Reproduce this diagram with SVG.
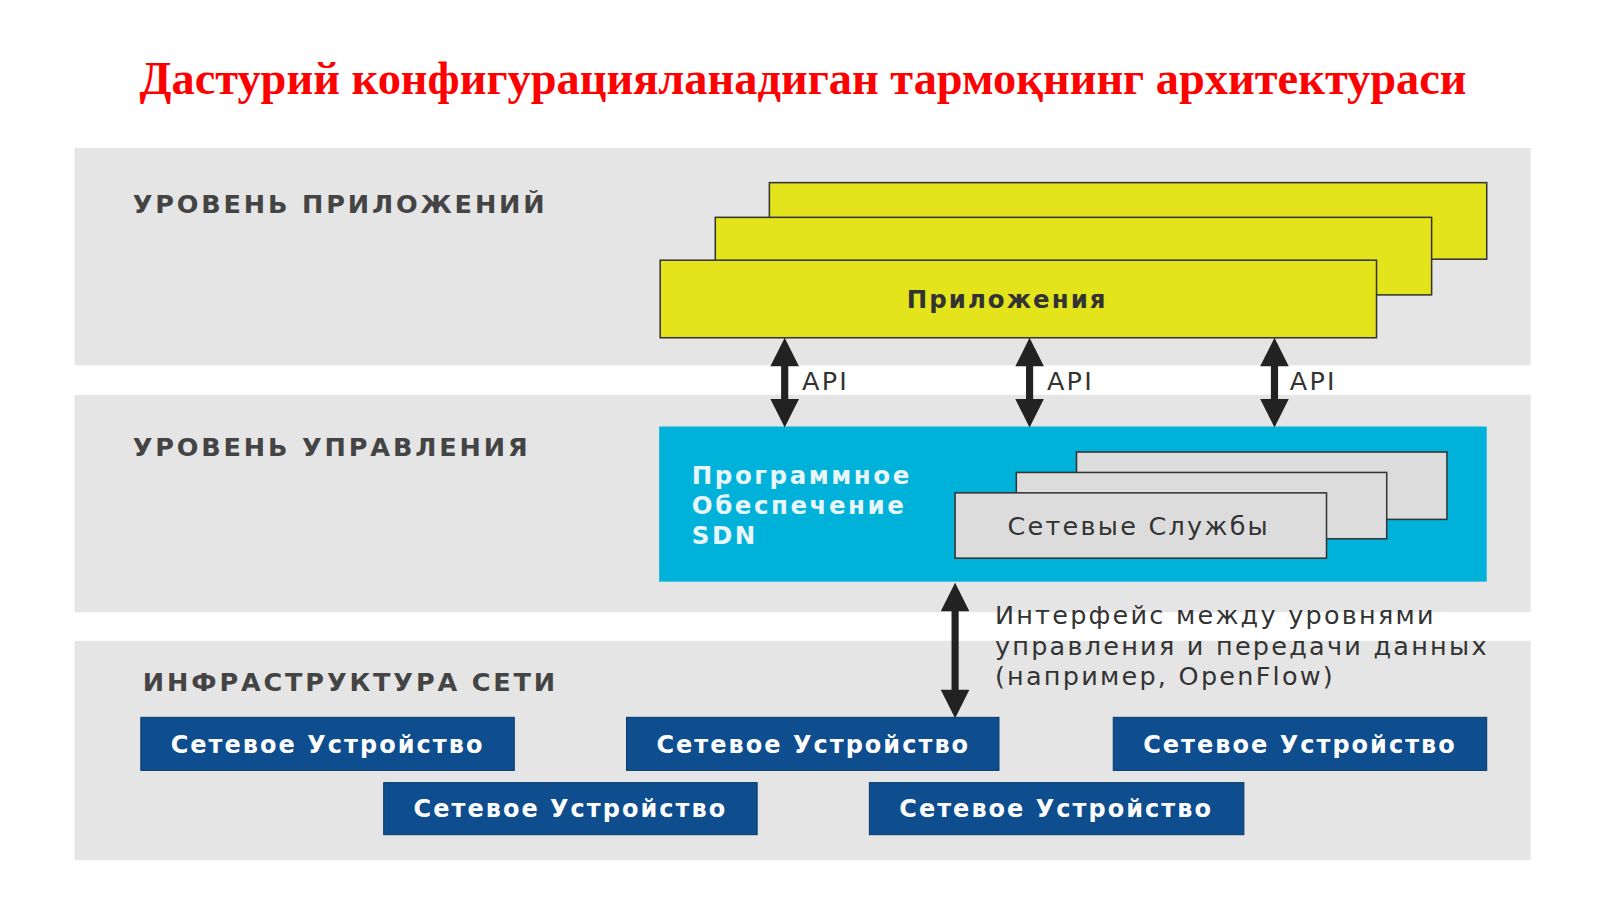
<svg xmlns="http://www.w3.org/2000/svg" width="1600" height="899" viewBox="0 0 1600 899">
<defs>
<style>
.band{fill:#e5e5e5}
.lvl{font-family:"DejaVu Sans",Verdana,sans-serif;font-weight:bold;font-size:25px;fill:#444;letter-spacing:2.8px}
.yel{fill:#e4e41c;stroke:#333;stroke-width:1.5}
.gr{fill:#dcdcdc;stroke:#333;stroke-width:1.5}
.dev{fill:#0e4d8e;stroke:#0a3a6e;stroke-width:1}
.devt{font-family:"DejaVu Sans",Verdana,sans-serif;font-weight:bold;font-size:23.5px;fill:#fff;text-anchor:middle;letter-spacing:2px}
.t{font-family:"DejaVu Sans",Verdana,sans-serif;font-size:25px;fill:#333;letter-spacing:2.2px}
.arr{stroke:#222;stroke-width:7;fill:none;marker-start:url(#ah);marker-end:url(#ah)}
</style>
<marker id="ah" viewBox="0 0 10 10" refX="5" refY="5" markerWidth="5" markerHeight="4" orient="auto-start-reverse" markerUnits="strokeWidth"><path d="M0,0 L10,5 L0,10 z" fill="#222"/></marker>
</defs>
<rect width="1600" height="899" fill="#fff"/>
<g transform="scale(1.0204)">
<text x="787" y="92" text-anchor="middle" font-family="Liberation Serif,Times New Roman,serif" font-weight="bold" font-size="45.5" fill="#f00">Дастурий конфигурацияланадиган тармоқнинг архитектураси</text>
<rect class="band" x="73" y="145" width="1427" height="213"/>
<rect class="band" x="73" y="387" width="1427" height="213"/>
<rect class="band" x="73" y="628" width="1427" height="215"/>
<text class="lvl" x="130" y="209">УРОВЕНЬ ПРИЛОЖЕНИЙ</text>
<text class="lvl" x="130" y="447">УРОВЕНЬ УПРАВЛЕНИЯ</text>
<text class="lvl" x="140" y="677">ИНФРАСТРУКТУРА СЕТИ</text>
<g id="apps">
<rect class="yel" x="754" y="179" width="703" height="75"/>
<rect class="yel" x="701" y="213" width="702" height="76"/>
<rect class="yel" x="647" y="255" width="702" height="76"/>
<text x="987" y="302" text-anchor="middle" font-family="DejaVu Sans,Verdana,sans-serif" font-weight="bold" font-size="24" fill="#333" letter-spacing="2">Приложения</text>
</g>
<g id="sdn">
<rect x="646" y="418" width="811" height="152" fill="#00b2d9"/>
<text font-family="DejaVu Sans,Verdana,sans-serif" font-weight="bold" font-size="24" fill="#e8f6fb" letter-spacing="2.5"><tspan x="678" y="474">Программное</tspan><tspan x="678" y="504">Обеспечение</tspan><tspan x="678" y="533">SDN</tspan></text>
<rect class="gr" x="1055" y="443" width="363" height="66"/>
<rect class="gr" x="996" y="463" width="363" height="65"/>
<rect class="gr" x="936" y="483" width="364" height="64"/>
<text class="t" x="1116" y="524" text-anchor="middle">Сетевые Службы</text>
</g>
<g id="connectors">
<line class="arr" x1="769" y1="345" x2="769" y2="405"/>
<line class="arr" x1="1009" y1="345" x2="1009" y2="405"/>
<line class="arr" x1="1249" y1="345" x2="1249" y2="405"/>
<line class="arr" x1="936" y1="585" x2="936" y2="690"/>
</g>
<text class="t" x="786" y="382">API</text>
<text class="t" x="1026" y="382">API</text>
<text class="t" x="1264" y="382">API</text>
<text class="t"><tspan x="975" y="612">Интерфейс между уровнями</tspan><tspan x="975" y="642">управления и передачи данных</tspan><tspan x="975" y="671">(например, OpenFlow)</tspan></text>
<g id="dev1"><rect class="dev" x="138" y="703" width="366" height="52"/><text class="devt" x="321" y="738">Сетевое Устройство</text></g>
<g id="dev2"><rect class="dev" x="614" y="703" width="365" height="52"/><text class="devt" x="797" y="738">Сетевое Устройство</text></g>
<g id="dev3"><rect class="dev" x="1091" y="703" width="366" height="52"/><text class="devt" x="1274" y="738">Сетевое Устройство</text></g>
<g id="dev4"><rect class="dev" x="376" y="767" width="366" height="51"/><text class="devt" x="559" y="801">Сетевое Устройство</text></g>
<g id="dev5"><rect class="dev" x="852" y="767" width="367" height="51"/><text class="devt" x="1035" y="801">Сетевое Устройство</text></g>
</g>
</svg>
